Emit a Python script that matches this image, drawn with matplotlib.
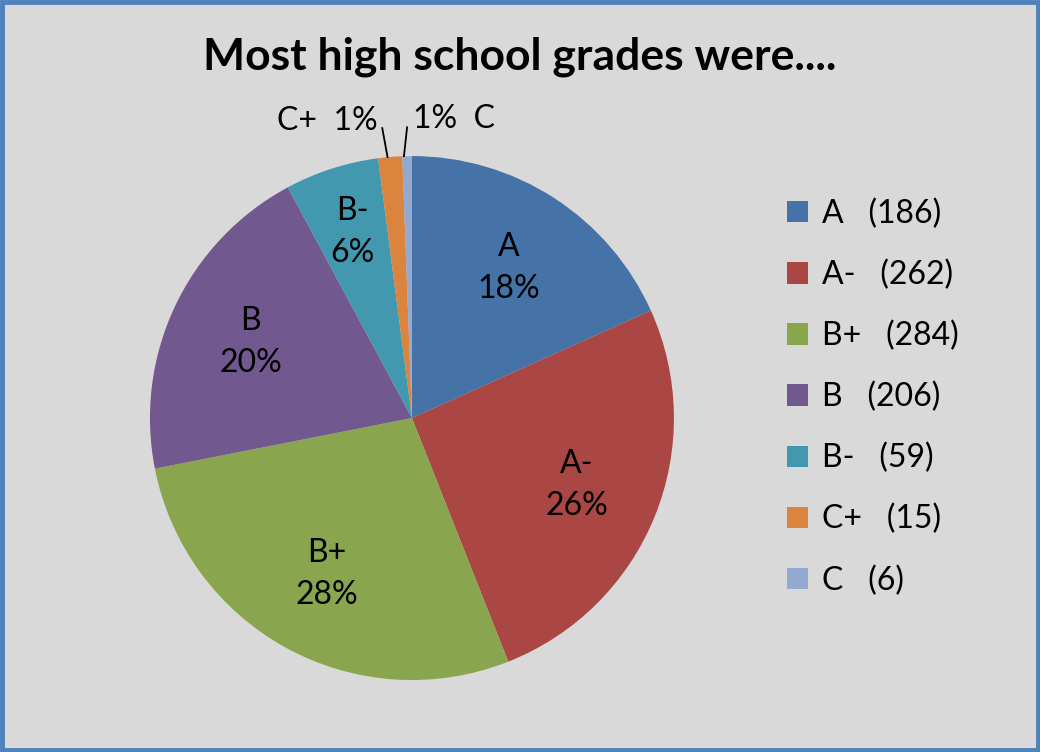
import matplotlib.pyplot as plt
import numpy as np

grades = ['A', 'A-', 'B+', 'B', 'B-', 'C+', 'C']
counts = [186, 262, 284, 206, 59, 15, 6]
colors = ['#4572A7', '#AA4643', '#89A54E', '#71588F', '#4198AF', '#DB843D', '#93A9CF']

plt.rcParams['font.family'] = ['Lato', 'DejaVu Sans']

fig = plt.figure(figsize=(10.4, 7.52), dpi=100)
fig.patch.set_facecolor('#D9D9D9')

# blue frame
frame = plt.Rectangle((0.002, 0.003), 0.996, 0.994, transform=fig.transFigure,
                      fill=False, edgecolor='#4F81BD', linewidth=3.5)
fig.patches.append(frame)

ax = fig.add_axes([0.1442, 0.0957, 0.5038, 0.6968])
ax.set_facecolor('#D9D9D9')

wedges, _ = ax.pie(counts, colors=colors, startangle=90, counterclock=False,
                   radius=1, wedgeprops=dict(edgecolor='none'))
ax.set_xlim(-1, 1)
ax.set_ylim(-1, 1)
ax.set_aspect('equal')
ax.axis('off')

total = sum(counts)
for w, g, c in zip(wedges, grades, counts):
    pct = round(100 * c / total)
    mid = np.deg2rad((w.theta1 + w.theta2) / 2)
    if c > 30:
        d = 0.68 if c > 100 else 0.745
        ax.text(d * np.cos(mid), d * np.sin(mid), f"{g}\n{pct}%", ha='center',
                va='center', fontsize=23, linespacing=1.5)
    else:
        x0, y0 = np.cos(mid), np.sin(mid)
        if g == 'C+':
            ax.plot([x0 - 0.01, x0 - 0.03], [y0, y0 + 0.11], color='black', lw=1.3, clip_on=False)
            ax.text(-0.13, 1.135, f"{g}  {pct}%", ha='right', va='center', fontsize=23)
        else:
            ax.plot([x0 - 0.012, x0], [y0, y0 + 0.11], color='black', lw=1.3, clip_on=False)
            ax.text(0.004, 1.14, f"{pct}%  {g}", ha='left', va='center', fontsize=23)

legend_labels = [f"{g}   ({c})" for g, c in zip(grades, counts)]
fig.legend(wedges, legend_labels, loc='upper left', bbox_to_anchor=(0.757, 0.736),
           frameon=False, fontsize=23, handlelength=0.65, handleheight=0.65,
           handletextpad=0.45, labelspacing=0.96, borderpad=0, borderaxespad=0)

fig.text(0.5, 0.925, "Most high school grades were....", ha='center', va='center',
         fontsize=32, fontweight='bold')

plt.savefig('out.png', dpi=100, facecolor=fig.get_facecolor())
